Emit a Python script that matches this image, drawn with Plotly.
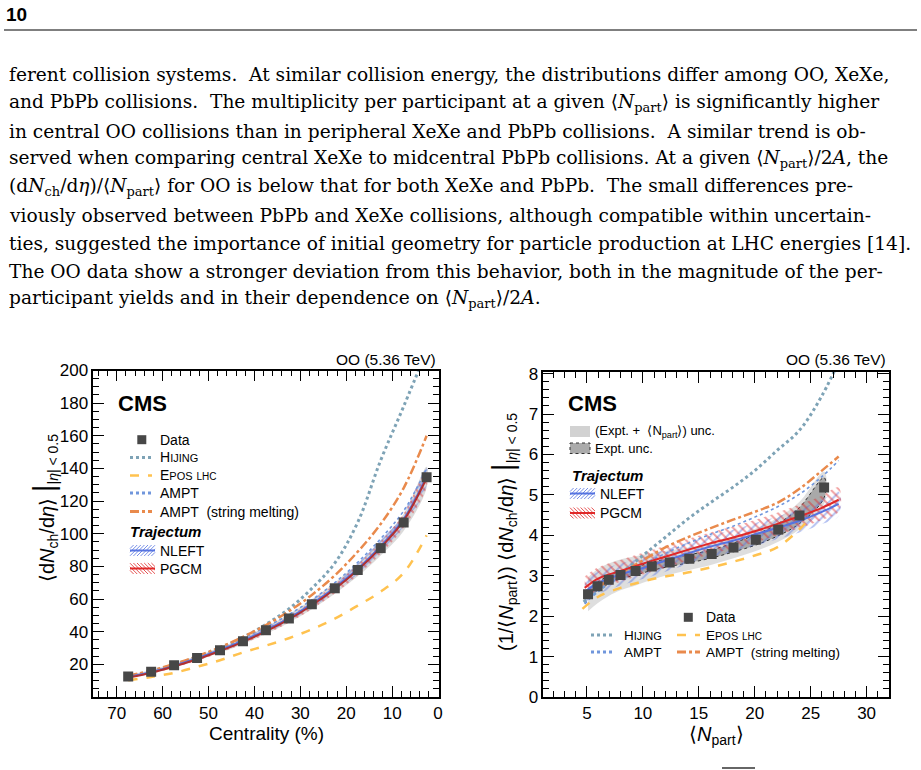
import plotly.graph_objects as go

W, H = 921, 770

# ---------------- left panel: <dNch/deta> vs centrality ----------------
centrality = [67.5, 62.5, 57.5, 52.5, 47.5, 42.5, 37.5, 32.5, 27.5, 22.5, 17.5, 12.5, 7.5, 2.5]
dndeta_data = [12.6, 15.5, 19.4, 23.9, 28.7, 34.2, 40.9, 48.1, 56.8, 66.6, 77.8, 91.2, 106.9, 134.6]
dndeta_unc = [0.9, 1.0, 1.2, 1.4, 1.6, 1.9, 2.2, 2.6, 3.0, 3.4, 3.9, 4.5, 5.2, 6.5]
hijing_left = [12.6, 15.8, 19.8, 24.5, 30.0, 36.5, 44.5, 54.0, 66.5, 82.0, 107.0, 145.0, 178.0, 212.0]
epos_left = [10.2, 12.3, 14.8, 18.5, 22.5, 27.3, 31.5, 36.0, 41.5, 48.0, 56.0, 64.5, 76.0, 99.0]
ampt_left = [12.8, 15.9, 19.9, 24.6, 30.0, 36.0, 42.8, 50.5, 59.5, 70.0, 82.5, 97.0, 114.0, 140.0]
amptsm_left = [13.0, 16.2, 20.2, 25.0, 30.5, 36.8, 44.0, 52.5, 62.5, 74.5, 89.0, 106.0, 128.0, 160.0]
nleft_left = [12.3, 15.3, 19.2, 23.7, 28.8, 34.5, 41.0, 48.3, 57.0, 67.0, 78.5, 92.5, 109.0, 135.0]
nleft_left_unc = [0.6, 0.7, 0.8, 1.0, 1.2, 1.4, 1.7, 2.0, 2.4, 2.8, 3.2, 3.8, 4.4, 5.4]
pgcm_left = [11.9, 14.9, 18.7, 23.1, 28.2, 33.8, 40.2, 47.5, 56.2, 66.2, 77.8, 91.5, 108.0, 134.0]
pgcm_left_unc = [0.6, 0.7, 0.8, 1.0, 1.2, 1.4, 1.7, 2.0, 2.4, 2.8, 3.2, 3.8, 4.4, 5.4]

# ---------------- right panel: per-participant yield vs <Npart> ----------------
npart = [5.1, 5.95, 6.95, 8.0, 9.35, 10.8, 12.4, 14.15, 16.15, 18.1, 20.1, 22.1, 24.0, 26.2]
ratio_data = [2.54, 2.74, 2.90, 3.02, 3.12, 3.23, 3.33, 3.42, 3.54, 3.70, 3.89, 4.14, 4.49, 5.18]
ratio_total_unc = [0.42, 0.42, 0.40, 0.38, 0.36, 0.33, 0.30, 0.28, 0.27, 0.27, 0.28, 0.30, 0.34, 0.40]
ratio_expt_unc = [0.10, 0.10, 0.10, 0.10, 0.10, 0.10, 0.10, 0.10, 0.10, 0.11, 0.13, 0.15, 0.20, 0.25]
hijing_npart = [4.7, 6, 8, 10, 12, 14, 16, 18, 20, 22, 24, 26, 28]
hijing_right = [2.35, 2.62, 3.05, 3.5, 3.95, 4.4, 4.8, 5.18, 5.6, 6.1, 6.6, 7.45, 8.6]
epos_npart = [4.6, 6, 8, 10, 12, 14, 16, 18, 20, 22, 24, 25]
epos_right = [2.18, 2.48, 2.70, 2.86, 2.98, 3.08, 3.20, 3.34, 3.50, 3.70, 4.15, 4.45]
model_npart = [4.8, 6, 8, 10, 12, 14, 16, 18, 20, 22, 24, 26, 27.5]
ampt_right = [2.30, 2.62, 2.98, 3.28, 3.55, 3.80, 4.02, 4.22, 4.45, 4.70, 5.02, 5.45, 5.85]
amptsm_right = [2.45, 2.72, 3.05, 3.38, 3.70, 3.95, 4.17, 4.38, 4.58, 4.80, 5.15, 5.60, 5.95]
nleft_right = [2.60, 2.82, 3.03, 3.19, 3.37, 3.55, 3.72, 3.86, 4.02, 4.18, 4.36, 4.58, 4.78]
nleft_right_unc = [0.28, 0.28, 0.27, 0.27, 0.27, 0.27, 0.27, 0.27, 0.28, 0.28, 0.29, 0.30, 0.30]
pgcm_right = [2.70, 2.93, 3.12, 3.30, 3.47, 3.64, 3.80, 3.94, 4.10, 4.28, 4.47, 4.68, 4.88]
pgcm_right_unc = [0.28, 0.28, 0.27, 0.27, 0.27, 0.27, 0.27, 0.27, 0.28, 0.28, 0.29, 0.30, 0.30]

paragraph = [
    "ferent collision systems.  At similar collision energy, the distributions differ among OO, XeXe,",
    "and PbPb collisions.  The multiplicity per participant at a given ⟨<i>N</i><sub>part</sub>⟩ is significantly higher",
    "in central OO collisions than in peripheral XeXe and PbPb collisions.  A similar trend is ob-",
    "served when comparing central XeXe to midcentral PbPb collisions. At a given ⟨<i>N</i><sub>part</sub>⟩/2<i>A</i>, the",
    "(d<i>N</i><sub>ch</sub>/d<i>η</i>)/⟨<i>N</i><sub>part</sub>⟩ for OO is below that for both XeXe and PbPb.  The small differences pre-",
    "viously observed between PbPb and XeXe collisions, although compatible within uncertain-",
    "ties, suggested the importance of initial geometry for particle production at LHC energies [14].",
    "The OO data show a stronger deviation from this behavior, both in the magnitude of the per-",
    "participant yields and in their dependence on ⟨<i>N</i><sub>part</sub>⟩/2<i>A</i>.",
]

# ---------------- colours ----------------
C_DATA = "#474747"
C_HIJING = "#7ea3b6"
C_EPOS = "#ffc24f"
C_AMPT = "#7096dc"
C_AMPTSM = "#e98a4c"
C_NLEFT = "#5573e0"
C_PGCM = "#e02828"
SANS = "Liberation Sans, Arial, sans-serif"
SERIF = "DejaVu Serif, serif"


def px(x):
    return x / W


def py(y):
    return 1 - y / H


def band(xs, c, h):
    bx = list(xs) + list(xs)[::-1]
    by = [a + b for a, b in zip(c, h)] + [a - b for a, b in zip(c, h)][::-1]
    return bx, by


fig = go.Figure()


def add_band(xs, c, h, xa, ya, shape=None, fg=None, fill=None, line=None):
    bx, by = band(xs, c, h)
    kw = dict(x=bx, y=by, xaxis=xa, yaxis=ya, mode="lines", fill="toself",
              showlegend=False, hoverinfo="skip", line_shape="spline")
    if shape:
        kw["fillpattern"] = dict(shape=shape, fgcolor=fg, bgcolor="rgba(0,0,0,0)",
                                 size=6, solidity=0.32)
        kw["fillcolor"] = "rgba(0,0,0,0)"
        kw["line"] = dict(width=0, color="rgba(0,0,0,0)")
    else:
        kw["fillcolor"] = fill
        kw["line"] = line or dict(width=0, color="rgba(0,0,0,0)")
    fig.add_trace(go.Scatter(**kw))


def add_line(xs, ys, xa, ya, color, width, dash):
    fig.add_trace(go.Scatter(x=xs, y=ys, xaxis=xa, yaxis=ya, mode="lines",
                             line=dict(color=color, width=width, dash=dash, shape="spline"),
                             showlegend=False, hoverinfo="skip"))


# ----- left panel traces -----
add_band(centrality, dndeta_data, dndeta_unc, "x", "y", fill="rgba(190,190,190,0.55)")
add_band(centrality, nleft_left, nleft_left_unc, "x", "y", shape="/", fg="rgba(85,115,224,0.9)")
add_band(centrality, pgcm_left, pgcm_left_unc, "x", "y", shape="\\", fg="rgba(224,40,40,0.9)")
add_line(centrality, hijing_left, "x", "y", C_HIJING, 3, "dot")
add_line(centrality, epos_left, "x", "y", C_EPOS, 2.5, "dash")
add_line(centrality, ampt_left, "x", "y", C_AMPT, 1.6, "dot")
add_line(centrality, amptsm_left, "x", "y", C_AMPTSM, 2.5, "dashdot")
add_line(centrality, nleft_left, "x", "y", C_NLEFT, 2, "solid")
add_line(centrality, pgcm_left, "x", "y", "#b03030", 2, "solid")
fig.add_trace(go.Scatter(x=centrality, y=dndeta_data, xaxis="x", yaxis="y", mode="markers",
                         marker=dict(symbol="square", size=10, color=C_DATA),
                         showlegend=False, hoverinfo="skip"))

# ----- right panel traces -----
add_band(npart, ratio_data, ratio_total_unc, "x2", "y2", fill="rgba(200,200,200,0.6)")
add_band(npart, ratio_data, ratio_expt_unc, "x2", "y2", fill="rgba(140,140,140,0.65)",
         line=dict(color="#333333", width=1, dash="dot"))
add_band(model_npart, nleft_right, nleft_right_unc, "x2", "y2", shape="/", fg="rgba(85,115,224,0.9)")
add_band(model_npart, pgcm_right, pgcm_right_unc, "x2", "y2", shape="\\", fg="rgba(224,40,40,0.9)")
add_line(hijing_npart, hijing_right, "x2", "y2", C_HIJING, 3, "dot")
add_line(epos_npart, epos_right, "x2", "y2", C_EPOS, 2.5, "dash")
add_line(model_npart, ampt_right, "x2", "y2", C_AMPT, 1.6, "dot")
add_line(model_npart, amptsm_right, "x2", "y2", C_AMPTSM, 2.5, "dashdot")
add_line(model_npart, nleft_right, "x2", "y2", C_NLEFT, 2, "solid")
add_line(model_npart, pgcm_right, "x2", "y2", C_PGCM, 2, "solid")
fig.add_trace(go.Scatter(x=npart, y=ratio_data, xaxis="x2", yaxis="y2", mode="markers",
                         marker=dict(symbol="square", size=10, color=C_DATA),
                         showlegend=False, hoverinfo="skip"))

# ---------------- axes ----------------
common = dict(showline=True, linecolor="black", linewidth=1.5, mirror="ticks", ticks="inside",
              ticklen=11, tickwidth=1.2, tickcolor="black", showgrid=False, zeroline=False,
              automargin=False, tickfont=dict(family=SANS, size=17, color="black"))

fig.update_layout(
    xaxis=dict(domain=[px(93.3), px(439)], range=[75.1, -0.2], tickmode="linear", tick0=0, dtick=10,
               minor=dict(ticks="inside", ticklen=6, tickcolor="black", dtick=2, tick0=0, showgrid=False),
               anchor="y", **common),
    yaxis=dict(domain=[py(697), py(370.5)], range=[0, 200], tickmode="array",
               tickvals=[20, 40, 60, 80, 100, 120, 140, 160, 180, 200],
               minor=dict(ticks="inside", ticklen=6, tickcolor="black", dtick=5, tick0=0, showgrid=False),
               anchor="x", **common),
    xaxis2=dict(domain=[px(543.3), px(889)], range=[1.1, 32], tickmode="linear", tick0=0, dtick=5,
                minor=dict(ticks="inside", ticklen=6, tickcolor="black", dtick=1, tick0=0, showgrid=False),
                anchor="y2", **common),
    yaxis2=dict(domain=[py(697), py(372)], range=[0, 8.04], tickmode="linear", tick0=0, dtick=1,
                minor=dict(ticks="inside", ticklen=6, tickcolor="black", dtick=0.2, tick0=0, showgrid=False),
                anchor="x2", **common),
)

# ---------------- annotations & shapes ----------------
ann = []
shapes = []


def text(x, y, s, size=14, xanchor="left", family=SANS, color="black", angle=0):
    ann.append(dict(x=px(x), y=py(y), xref="paper", yref="paper", text=s, showarrow=False,
                    xanchor=xanchor, yanchor="middle", font=dict(family=family, size=size, color=color),
                    textangle=angle))


def seg(x0, y0, x1, y1, color, width, dash="solid"):
    shapes.append(dict(type="line", xref="paper", yref="paper", x0=px(x0), y0=py(y0), x1=px(x1), y1=py(y1),
                       line=dict(color=color, width=width, dash=dash)))


def rect(x0, y0, x1, y1, fill, lcolor="rgba(0,0,0,0)", lwidth=0, dash="solid"):
    shapes.append(dict(type="rect", xref="paper", yref="paper", x0=px(x0), y0=py(y0), x1=px(x1), y1=py(y1),
                       fillcolor=fill, line=dict(color=lcolor, width=lwidth, dash=dash)))


def hatch(x0, y0, x1, y1, color, direction, step=3.6):
    h = y1 - y0
    t = x0 - h
    while t < x1:
        if direction == "/":
            xa, ya, xb, yb = t, y1, t + h, y0
        else:
            xa, ya, xb, yb = t, y0, t + h, y1
        if xa < x0:
            d = x0 - xa
            ya = ya - d if direction == "/" else ya + d
            xa = x0
        if xb > x1:
            d = xb - x1
            yb = yb + d if direction == "/" else yb - d
            xb = x1
        if xb > xa:
            seg(xa, ya, xb, yb, color, 1)
        t += step


# page header
text(4, 15, "<b>10</b>", size=19, family="Liberation Sans Narrow, Liberation Sans, Arial")
seg(4, 30, 917, 30, "#555555", 1.5)

# paragraph
for i, line in enumerate(paragraph):
    text(7, 75 + 28 * i, line, size=18.6, family=SERIF)

# bottom fragment of next line
seg(722, 768, 755, 768, "#666666", 2)

# left panel texts
text(438, 360, "OO (5.36 TeV)", size=15.5, xanchor="right")
text(116, 403, "<b>CMS</b>", size=22)
text(44, 508, "⟨d<i>N</i><sub>ch</sub>/d<i>η</i>⟩ <span style='font-size:30px'>|</span><sub>|<i>η</i>| &lt; 0.5</sub>",
     size=20, xanchor="center", angle=-90)
text(266, 733, "Centrality (%)", size=19, xanchor="center")

# left legend
rect(137.3, 435.2, 146.3, 444.2, C_DATA)
text(158, 440, "Data", size=14)
seg(130, 457.5, 152, 457.5, C_HIJING, 3, "dot")
text(158, 457.5, "H<span style='font-size:11px'>IJING</span>", size=14)
seg(130, 475.5, 152, 475.5, C_EPOS, 2.5, "dash")
text(158, 475.5, "E<span style='font-size:11px'>POS</span> <span style='font-size:10px'>LHC</span>", size=14)
seg(130, 493, 152, 493, C_AMPT, 3, "dot")
text(158, 493, "AMPT", size=14)
seg(130, 511.5, 152, 511.5, C_AMPTSM, 3, "dashdot")
text(158, 511.5, "AMPT  (string melting)", size=14)
text(128, 531, "<b><i>Trajectum</i></b>", size=15)
hatch(130, 545, 155, 556, "rgba(85,115,224,0.8)", "/")
seg(130, 550.5, 155, 550.5, C_NLEFT, 2)
text(158, 550.5, "NLEFT", size=14)
hatch(130, 563, 155, 574, "rgba(224,40,40,0.8)", "\\")
seg(130, 568.5, 155, 568.5, C_PGCM, 2)
text(158, 568.5, "PGCM", size=14)

# right panel texts
text(888, 360, "OO (5.36 TeV)", size=15.5, xanchor="right")
text(566, 403, "<b>CMS</b>", size=22)
text(503, 532,
     "(1/⟨<i>N</i><sub>part</sub>⟩) ⟨d<i>N</i><sub>ch</sub>/d<i>η</i>⟩ <span style='font-size:30px'>|</span><sub>|<i>η</i>| &lt; 0.5</sub>",
     size=20, xanchor="center", angle=-90)
text(716, 735, "⟨<i>N</i><sub>part</sub>⟩", size=20, xanchor="center")

# right legend (top)
rect(570, 426, 590, 437, "rgba(205,205,205,0.9)")
text(593, 431.5, "(Expt. +  ⟨N<sub>part</sub>⟩) unc.", size=13)
rect(570, 443, 590, 453.5, "rgba(150,150,150,0.8)", "#333333", 1, "dot")
text(593, 448, "Expt. unc.", size=13)
text(570, 475, "<b><i>Trajectum</i></b>", size=15)
hatch(570, 488, 595, 499, "rgba(85,115,224,0.8)", "/")
seg(570, 493.5, 595, 493.5, C_NLEFT, 2)
text(598, 493.5, "NLEFT", size=14)
hatch(570, 507.5, 595, 518.5, "rgba(224,40,40,0.8)", "\\")
seg(570, 513, 595, 513, C_PGCM, 2)
text(598, 513, "PGCM", size=14)

# right legend (bottom)
rect(683.8, 612.8, 692.8, 621.8, C_DATA)
text(704, 617.3, "Data", size=14)
seg(591, 635, 615, 635, C_HIJING, 3, "dot")
text(622, 635, "H<span style='font-size:11px'>IJING</span>", size=13.5)
seg(677, 635, 700, 635, C_EPOS, 2.5, "dash")
text(704, 635, "E<span style='font-size:11px'>POS</span> <span style='font-size:10px'>LHC</span>", size=13.5)
seg(591, 652, 615, 652, C_AMPT, 3, "dot")
text(622, 652, "AMPT", size=13.5)
seg(677, 652, 700, 652, C_AMPTSM, 3, "dashdot")
text(704, 652, "AMPT  (string melting)", size=13.5)

fig.update_layout(
    width=W, height=H, margin=dict(l=0, r=0, t=0, b=0, pad=0, autoexpand=False),
    paper_bgcolor="white", plot_bgcolor="white", showlegend=False,
    annotations=ann, shapes=shapes,
)

fig.write_html("out.html")
